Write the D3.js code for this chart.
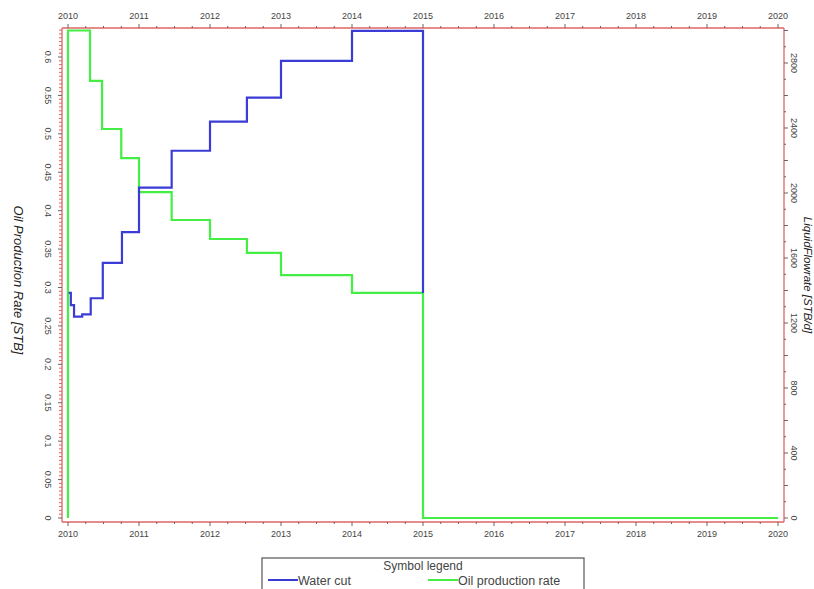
<!DOCTYPE html>
<html><head><meta charset="utf-8">
<script src="https://cdn.jsdelivr.net/npm/d3@7"></script>
<style>body{margin:0;background:#fff}svg{display:block}</style>
</head><body><svg id="c" width="814" height="589"></svg>
<script>
// ---- data ----
const years = [2010,2011,2012,2013,2014,2015,2016,2017,2018,2019,2020];
const leftTicks = [0,0.05,0.1,0.15,0.2,0.25,0.3,0.35,0.4,0.45,0.5,0.55,0.6];
const rightTicks = [0,400,800,1200,1600,2000,2400,2800];
const waterCutT = [2010.01,2010.04,2010.085,2010.2,2010.32,2010.49,2010.76,2011.0,2011.46,2012.0,2012.52,2013.0,2014.0,2015.0];
const waterCutV = [0.293,0.277,0.262,0.265,0.286,0.332,0.372,0.430,0.478,0.516,0.547,0.595,0.634,0.293];
const oilT = [2010.0,2010.0,2010.31,2010.48,2010.75,2011.0,2011.46,2012.0,2012.52,2013.0,2014.0,2015.0,2020.0];
const oilV = [0,3000,2690,2394,2215,2006,1834,1717,1631,1495,1385,0,0];
const seriesNames = ["Water cut","Oil production rate"];
const seriesColors = ["#3b3bd6","#44ee44"];

// ---- layout ----
const svg = d3.select("#c");
const L=62, R=784, T=28, B=522;
const x = d3.scaleLinear().domain([2010,2020]).range([68,778]);
const yL = d3.scaleLinear().domain([0,0.6]).range([518,57]);
const yR = d3.scaleLinear().domain([0,2800]).range([518,63]);
const axisCol = "#e06464", tickCol="#666", txtCol="#444";
const font = "Liberation Sans, Arial, sans-serif";

// frame
svg.append("g").selectAll("line").data([[L,T,R,T],[L,B,R,B],[L,T,L,B],[R,T,R,B]])
 .join("line").attr("x1",d=>d[0]).attr("y1",d=>d[1]).attr("x2",d=>d[2]).attr("y2",d=>d[3])
 .attr("stroke",axisCol).attr("stroke-width",1.3);

// x axes (top and bottom) ticks
const xMinor = d3.range(2010,2020.01,0.25);
[[T,-1],[B,1]].forEach(([yy,dir])=>{
  svg.append("g").selectAll("line").data(xMinor).join("line")
   .attr("x1",d=>x(d)).attr("x2",d=>x(d))
   .attr("y1",yy).attr("y2",d=>yy+dir*(Number.isInteger(d)?4:2))
   .attr("stroke",tickCol).attr("stroke-width",1);
  svg.append("g").selectAll("text").data(years).join("text")
   .attr("x",d=>x(d)).attr("y",dir<0?yy-9:yy+15).attr("text-anchor","middle")
   .attr("font-family",font).attr("font-size",9).attr("fill",txtCol).text(d=>d);
});

// left axis ticks
const lMinor = d3.range(0,0.636,0.005);
svg.append("g").selectAll("line").data(lMinor).join("line")
  .attr("x1",L).attr("x2",(d,i)=>L-(i%10===0?4:3))
  .attr("y1",d=>yL(d)).attr("y2",d=>yL(d))
  .attr("stroke",(d,i)=>i%10===0?tickCol:axisCol).attr("stroke-width",1);
svg.append("g").selectAll("text").data(leftTicks).join("text")
  .attr("transform",d=>`translate(45,${yL(d)}) rotate(90)`).attr("text-anchor","middle")
  .attr("font-family",font).attr("font-size",9).attr("fill",txtCol)
  .text(d=>d===0?"0":String(d));

// right axis ticks
const rMinor = d3.range(0,3001,100);
svg.append("g").selectAll("line").data(rMinor).join("line")
  .attr("x1",R).attr("x2",d=>R+(d%200===0?4:2))
  .attr("y1",d=>yR(d)).attr("y2",d=>yR(d))
  .attr("stroke",tickCol).attr("stroke-width",1);
svg.append("g").selectAll("text").data(rightTicks).join("text")
  .attr("transform",d=>`translate(791,${yR(d)}) rotate(90)`).attr("text-anchor","middle")
  .attr("font-family",font).attr("font-size",9).attr("fill",txtCol).text(d=>d);

// axis titles
svg.append("text").attr("transform","translate(14,280) rotate(90)").attr("text-anchor","middle")
  .attr("font-family",font).attr("font-size",13).attr("font-style","italic").attr("fill","#222")
  .text("Oil Production Rate [STB]");
svg.append("text").attr("transform","translate(803.5,275) rotate(90)").attr("text-anchor","middle")
  .attr("font-family",font).attr("font-size",11.5).attr("font-style","italic").attr("fill","#222")
  .text("LiquidFlowrate [STB/d]");

// series
const stepLine = (ys)=>d3.line().x(d=>x(d[0])).y(d=>ys(d[1])).curve(d3.curveStepAfter);
svg.append("path").datum(oilT.map((t,i)=>[t,oilV[i]]))
  .attr("d",stepLine(yR)).attr("fill","none").attr("stroke",seriesColors[1]).attr("stroke-width",2.2);
svg.append("path").datum(waterCutT.map((t,i)=>[t,waterCutV[i]]))
  .attr("d",stepLine(yL)).attr("fill","none").attr("stroke",seriesColors[0]).attr("stroke-width",2.2);

// legend
const lg = svg.append("g");
lg.append("rect").attr("x",262).attr("y",558).attr("width",322).attr("height",40)
  .attr("fill","#fff").attr("stroke","#555").attr("stroke-width",1.2);
lg.append("text").attr("x",423).attr("y",570).attr("text-anchor","middle")
  .attr("font-family",font).attr("font-size",12).attr("fill","#444").text("Symbol legend");
const lx=[268,428];
seriesNames.forEach((n,i)=>{
  lg.append("line").attr("x1",lx[i]).attr("x2",lx[i]+30).attr("y1",580).attr("y2",580)
    .attr("stroke",seriesColors[i]).attr("stroke-width",2);
  lg.append("text").attr("x",lx[i]+30).attr("y",585).attr("font-family",font).attr("font-size",12.5)
    .attr("fill","#444").text(n);
});
</script></body></html>
